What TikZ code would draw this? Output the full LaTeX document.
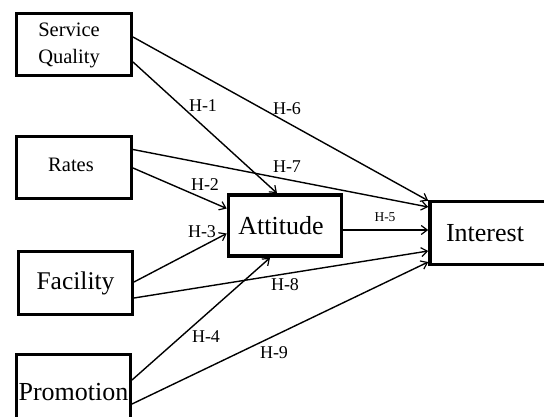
\documentclass[tikz,border=0pt]{standalone}
\usepackage{fontspec}
\setmainfont{Liberation Serif}
\usetikzlibrary{arrows.meta,calc}
\begin{document}
\begin{tikzpicture}[x=1pt,y=-1pt,
  box/.style={draw,line width=3pt,inner sep=0pt,align=center},
  bigbox/.style={draw,line width=3.6pt,inner sep=0pt,align=center},
  arr/.style={line width=1.4pt,-{Straight Barb[length=6pt,width=9pt,line width=1.2pt]}},
  lab/.style={font=\fontsize{18}{18}\selectfont,inner sep=0pt},
  smalllab/.style={font=\fontsize{13.5}{13.5}\selectfont,inner sep=0pt}]
\useasboundingbox (0,0) rectangle (544,417);
\fill[white] (0,0) rectangle (544,417);
\node[box,minimum width=115pt,minimum height=62pt,font=\fontsize{20.5}{27}\selectfont] (sq) at (74,45) {\hspace*{-10pt}Service\\\hspace*{-10pt}Quality};
\node[box,minimum width=115pt,minimum height=62pt,font=\fontsize{20.5}{20}\selectfont] (rt) at (74,167.5) {\raisebox{5pt}{\hspace*{-6pt}Rates}};
\node[box,minimum width=114pt,minimum height=63pt,font=\fontsize{25.5}{25}\selectfont] (fc) at (75.5,283) {Facility};
\node[box,minimum width=114pt,minimum height=76pt,font=\fontsize{26}{25}\selectfont,text depth=0pt] (pr) at (73.5,392) {\raisebox{1pt}{Promotion}};
\node[bigbox,minimum width=113pt,minimum height=61pt,font=\fontsize{26}{25}\selectfont] (at) at (285,225.5) {\hspace*{-8pt}Attitude};
\node[bigbox,minimum width=134pt,minimum height=63pt,font=\fontsize{26}{25}\selectfont] (in) at (497,233) {\hspace*{-24pt}Interest};
% connectors
\draw[arr] ($(sq.east)+(0,17)$) -- ($(at.north)+(-8,0)$) node[lab] at (203,106) {H-1};
\draw[arr] ($(sq.east)+(0,-8)$) -- ($(in.north west)+(0,1)$) node[lab] at (287,109) {H-6};
\draw[arr] ($(rt.east)+(0,-18)$) -- ($(in.west)+(0,-26)$) node[lab] at (287,167) {H-7};
\draw[arr] ($(rt.east)+(0,0.5)$) -- ($(at.west)+(0,-17)$) node[lab] at (205,185) {H-2};
\draw[arr] ($(fc.east)+(0,-1)$) -- ($(at.west)+(0,8)$) node[lab] at (202,232) {H-3};
\draw[arr] ($(fc.east)+(0,15)$) -- ($(in.west)+(0,18)$) node[lab] at (285,285) {H-8};
\draw[arr] ($(pr.east)+(0,-12)$) -- ($(at.south)+(-15,0)$) node[lab] at (206,337) {H-4};
\draw[arr] ($(pr.east)+(0,12)$) -- ($(in.west)+(0,29)$) node[lab] at (274,353) {H-9};
\draw[arr] ($(at.east)+(0,4.5)$) -- ($(in.west)+(0,-3)$) node[smalllab] at (385,217) {H-5};
\end{tikzpicture}
\end{document}
